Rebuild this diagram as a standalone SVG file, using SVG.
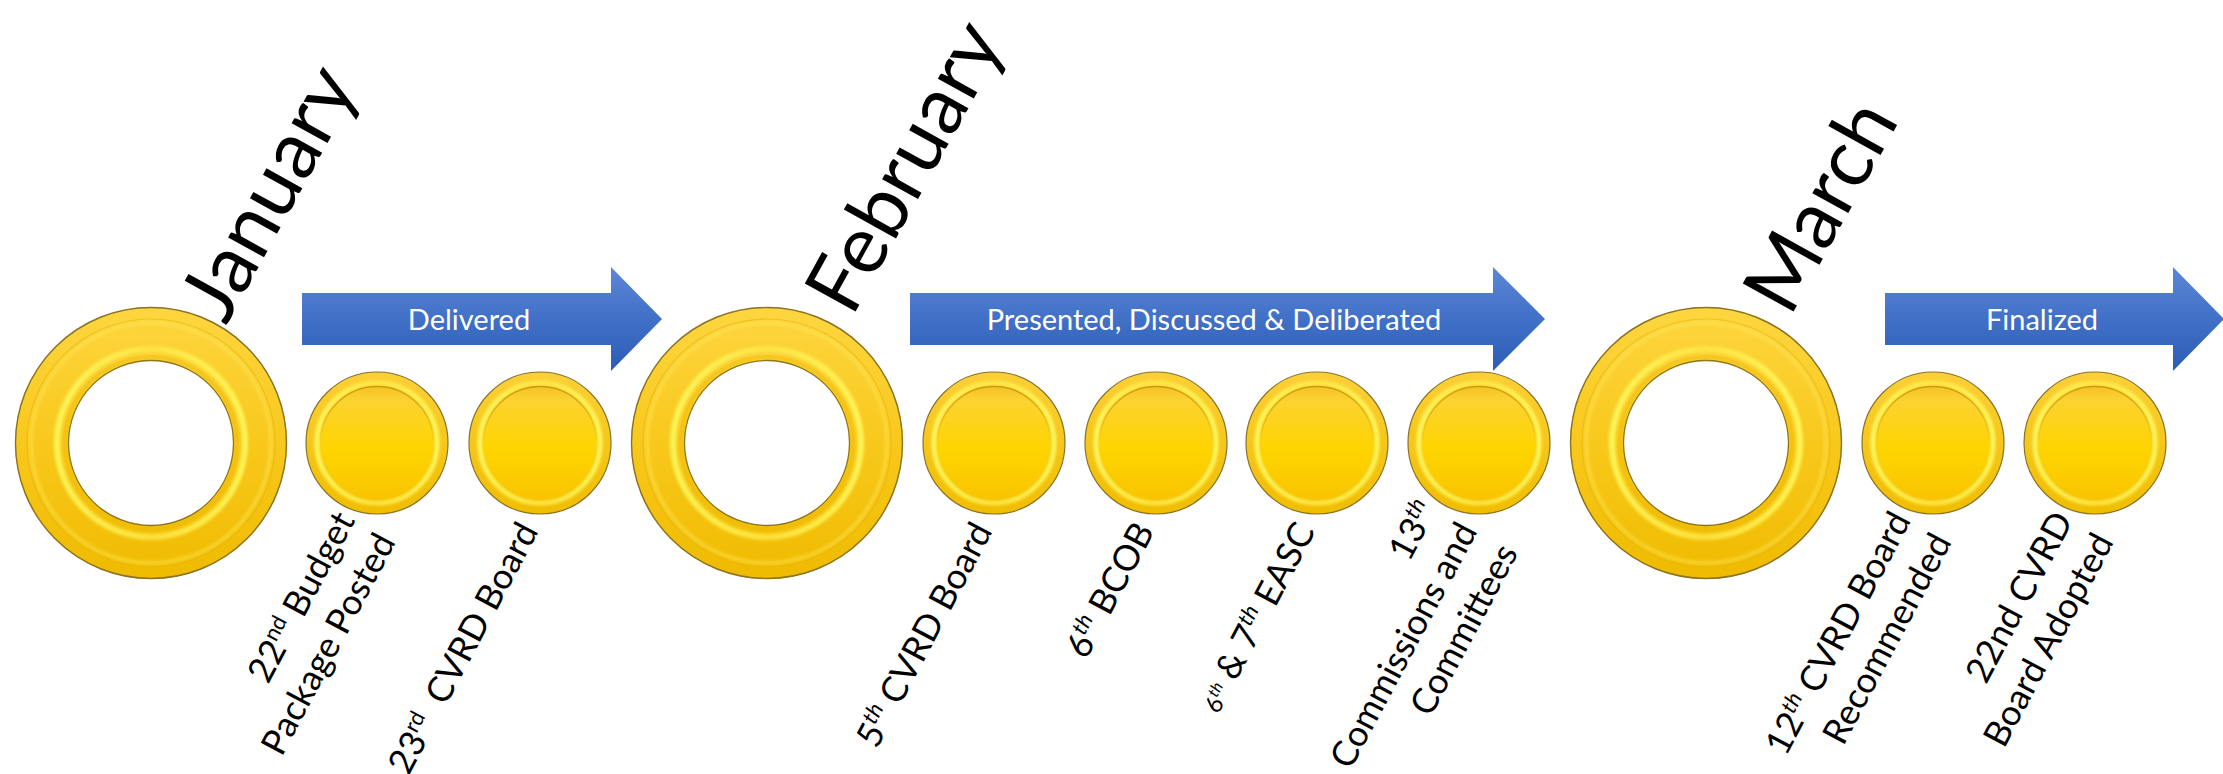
<svg xmlns="http://www.w3.org/2000/svg" xmlns:xlink="http://www.w3.org/1999/xlink" width="2223" height="774" viewBox="0 0 2223 774">
<style>
.lbl{font-family:Lato,"Open Sans","Liberation Sans",sans-serif;font-size:35.5px;fill:#000;text-anchor:end}
.mon{font-family:Lato,"Open Sans","Liberation Sans",sans-serif;font-size:81px;fill:#000}
.arr{font-family:Lato,"Open Sans","Liberation Sans",sans-serif;font-size:29px;fill:#fff;text-anchor:middle}
.sup{font-size:22px}
.supi{font-size:22px;font-style:italic}
.arrow{fill:url(#arrowGrad)}
</style>
<defs>
<linearGradient id="arrowGrad" gradientUnits="userSpaceOnUse" x1="0" y1="267" x2="0" y2="371">
<stop offset="0" stop-color="#5d87d6"/>
<stop offset="0.5" stop-color="#4170c7"/>
<stop offset="1" stop-color="#2d5cb6"/>
</linearGradient>
<linearGradient id="ringBase" x1="0" y1="0" x2="0" y2="1">
<stop offset="0" stop-color="#fdd640"/>
<stop offset="0.5" stop-color="#f8c81c"/>
<stop offset="1" stop-color="#efbb00"/>
</linearGradient>
<linearGradient id="coinBase" x1="0" y1="0" x2="0" y2="1">
<stop offset="0" stop-color="#fbd036"/>
<stop offset="1" stop-color="#f0bd00"/>
</linearGradient>
<linearGradient id="coinFace" x1="0" y1="0" x2="0" y2="1">
<stop offset="0" stop-color="#f3c228"/>
<stop offset="0.12" stop-color="#fcd232"/>
<stop offset="0.55" stop-color="#ffd500"/>
<stop offset="1" stop-color="#f8c400"/>
</linearGradient>
<linearGradient id="faceEdge" x1="0" y1="0" x2="0" y2="1">
<stop offset="0" stop-color="#c89600" stop-opacity="0.9"/>
<stop offset="0.5" stop-color="#c89600" stop-opacity="0"/>
</linearGradient>
<linearGradient id="hiGrad" x1="0" y1="0" x2="1" y2="0">
<stop offset="0" stop-color="#ffff66"/>
<stop offset="0.5" stop-color="#ffe94a"/>
<stop offset="1" stop-color="#ffff66"/>
</linearGradient>
<filter id="soft" x="-20%" y="-20%" width="140%" height="140%">
<feGaussianBlur stdDeviation="1.6"/>
</filter>
<g id="ringShape">
<path d="M-136,0a136,136 0 1,0 272,0a136,136 0 1,0 -272,0ZM-82,0a82,82 0 1,1 164,0a82,82 0 1,1 -164,0Z" fill="url(#ringBase)" fill-rule="evenodd"/>
<circle r="124" fill="none" stroke="#e3ad00" stroke-width="1.2" opacity="0.5"/>
<circle r="120" fill="none" stroke="#ffe95a" stroke-width="4" opacity="0.45" filter="url(#soft)"/>
<circle r="94" fill="none" stroke="url(#hiGrad)" stroke-width="6" opacity="0.8" filter="url(#soft)"/>
<circle r="86" fill="none" stroke="#eab600" stroke-width="4" opacity="0.35"/>
<circle r="82.5" fill="none" stroke="#6e5a14" stroke-width="1.3" opacity="0.75"/>
<circle r="135.5" fill="none" stroke="#8a7226" stroke-width="1.4"/>
</g>
<g id="coinShape">
<circle r="71" fill="url(#coinBase)" stroke="#8a7226" stroke-width="1.2"/>
<circle r="60" fill="none" stroke="url(#hiGrad)" stroke-width="5" opacity="0.85" filter="url(#soft)"/>
<circle r="56.5" fill="url(#coinFace)"/>
<circle r="56.5" fill="none" stroke="url(#faceEdge)" stroke-width="1.6"/>
</g>
</defs>
<rect width="2223" height="774" fill="#fff"/>

<g id="connectors">
<g id="arrow-delivered">
<path class="arrow" d="M302,293H611V267L662,319L611,371V345H302Z"/>
<text class="arr" x="469" y="330">Delivered</text>
</g>
<g id="arrow-presented">
<path class="arrow" d="M910,293H1493V267L1545,319L1493,371V345H910Z"/>
<text class="arr" x="1214" y="330">Presented, Discussed &amp; Deliberated</text>
</g>
<g id="arrow-finalized">
<path class="arrow" d="M1885,293H2173V267L2224,319L2173,371V345H1885Z"/>
<text class="arr" x="2042" y="330">Finalized</text>
</g>
</g>

<g id="month-january">
<use href="#ringShape" x="151" y="443"/>
<text class="mon" transform="translate(226,326) rotate(-61)">January</text>
</g>
<g id="month-february">
<use href="#ringShape" x="767" y="443"/>
<text class="mon" transform="translate(852,318) rotate(-61)">February</text>
</g>
<g id="month-march">
<use href="#ringShape" x="1706" y="443"/>
<text class="mon" transform="translate(1790,318) rotate(-61)">March</text>
</g>

<g id="event-jan22">
<use href="#coinShape" x="377" y="443"/>
<text class="lbl" transform="translate(376,531) rotate(-62)"><tspan x="0" y="-23">22<tspan class="sup" dy="-13">nd</tspan><tspan dy="13"> Budget</tspan></tspan><tspan x="0" y="23">Package Posted</tspan></text>
</g>
<g id="event-jan23">
<use href="#coinShape" x="540" y="443"/>
<text class="lbl" transform="translate(539,531) rotate(-62)" xml:space="preserve">23<tspan class="sup" dy="-13">rd</tspan><tspan dy="13">  CVRD Board</tspan></text>
</g>
<g id="event-feb5">
<use href="#coinShape" x="994" y="443"/>
<text class="lbl" transform="translate(993,531) rotate(-62)">5<tspan class="supi" dy="-13">th</tspan><tspan dy="13"> CVRD Board</tspan></text>
</g>
<g id="event-feb6">
<use href="#coinShape" x="1156" y="443"/>
<text class="lbl" transform="translate(1155,531) rotate(-62)">6<tspan class="supi" dy="-13">th</tspan><tspan dy="13"> BCOB</tspan></text>
</g>
<g id="event-feb6-7">
<use href="#coinShape" x="1317" y="443"/>
<text class="lbl" transform="translate(1316,531) rotate(-62)"><tspan font-size="24px">6</tspan><tspan font-size="16px" font-style="italic" dy="-9">th</tspan><tspan dy="9"> &amp; 7</tspan><tspan class="supi" dy="-13">th</tspan><tspan dy="13"> EASC</tspan></text>
</g>
<g id="event-feb13">
<use href="#coinShape" x="1479" y="443"/>
<text class="lbl" transform="translate(1478,531) rotate(-62)"><tspan x="0" y="-46">13<tspan class="supi" dy="-13">th</tspan></tspan><tspan x="0" y="0">Commissions and</tspan><tspan x="0" y="46">Committees</tspan></text>
</g>
<g id="event-mar12">
<use href="#coinShape" x="1933" y="443"/>
<text class="lbl" transform="translate(1932,531) rotate(-62)"><tspan x="0" y="-23">12<tspan class="supi" dy="-13">th</tspan><tspan dy="13"> CVRD Board</tspan></tspan><tspan x="0" y="23">Recommended</tspan></text>
</g>
<g id="event-mar22">
<use href="#coinShape" x="2095" y="443"/>
<text class="lbl" transform="translate(2094,531) rotate(-62)"><tspan x="0" y="-23">22nd CVRD</tspan><tspan x="0" y="23">Board Adopted</tspan></text>
</g>
</svg>
